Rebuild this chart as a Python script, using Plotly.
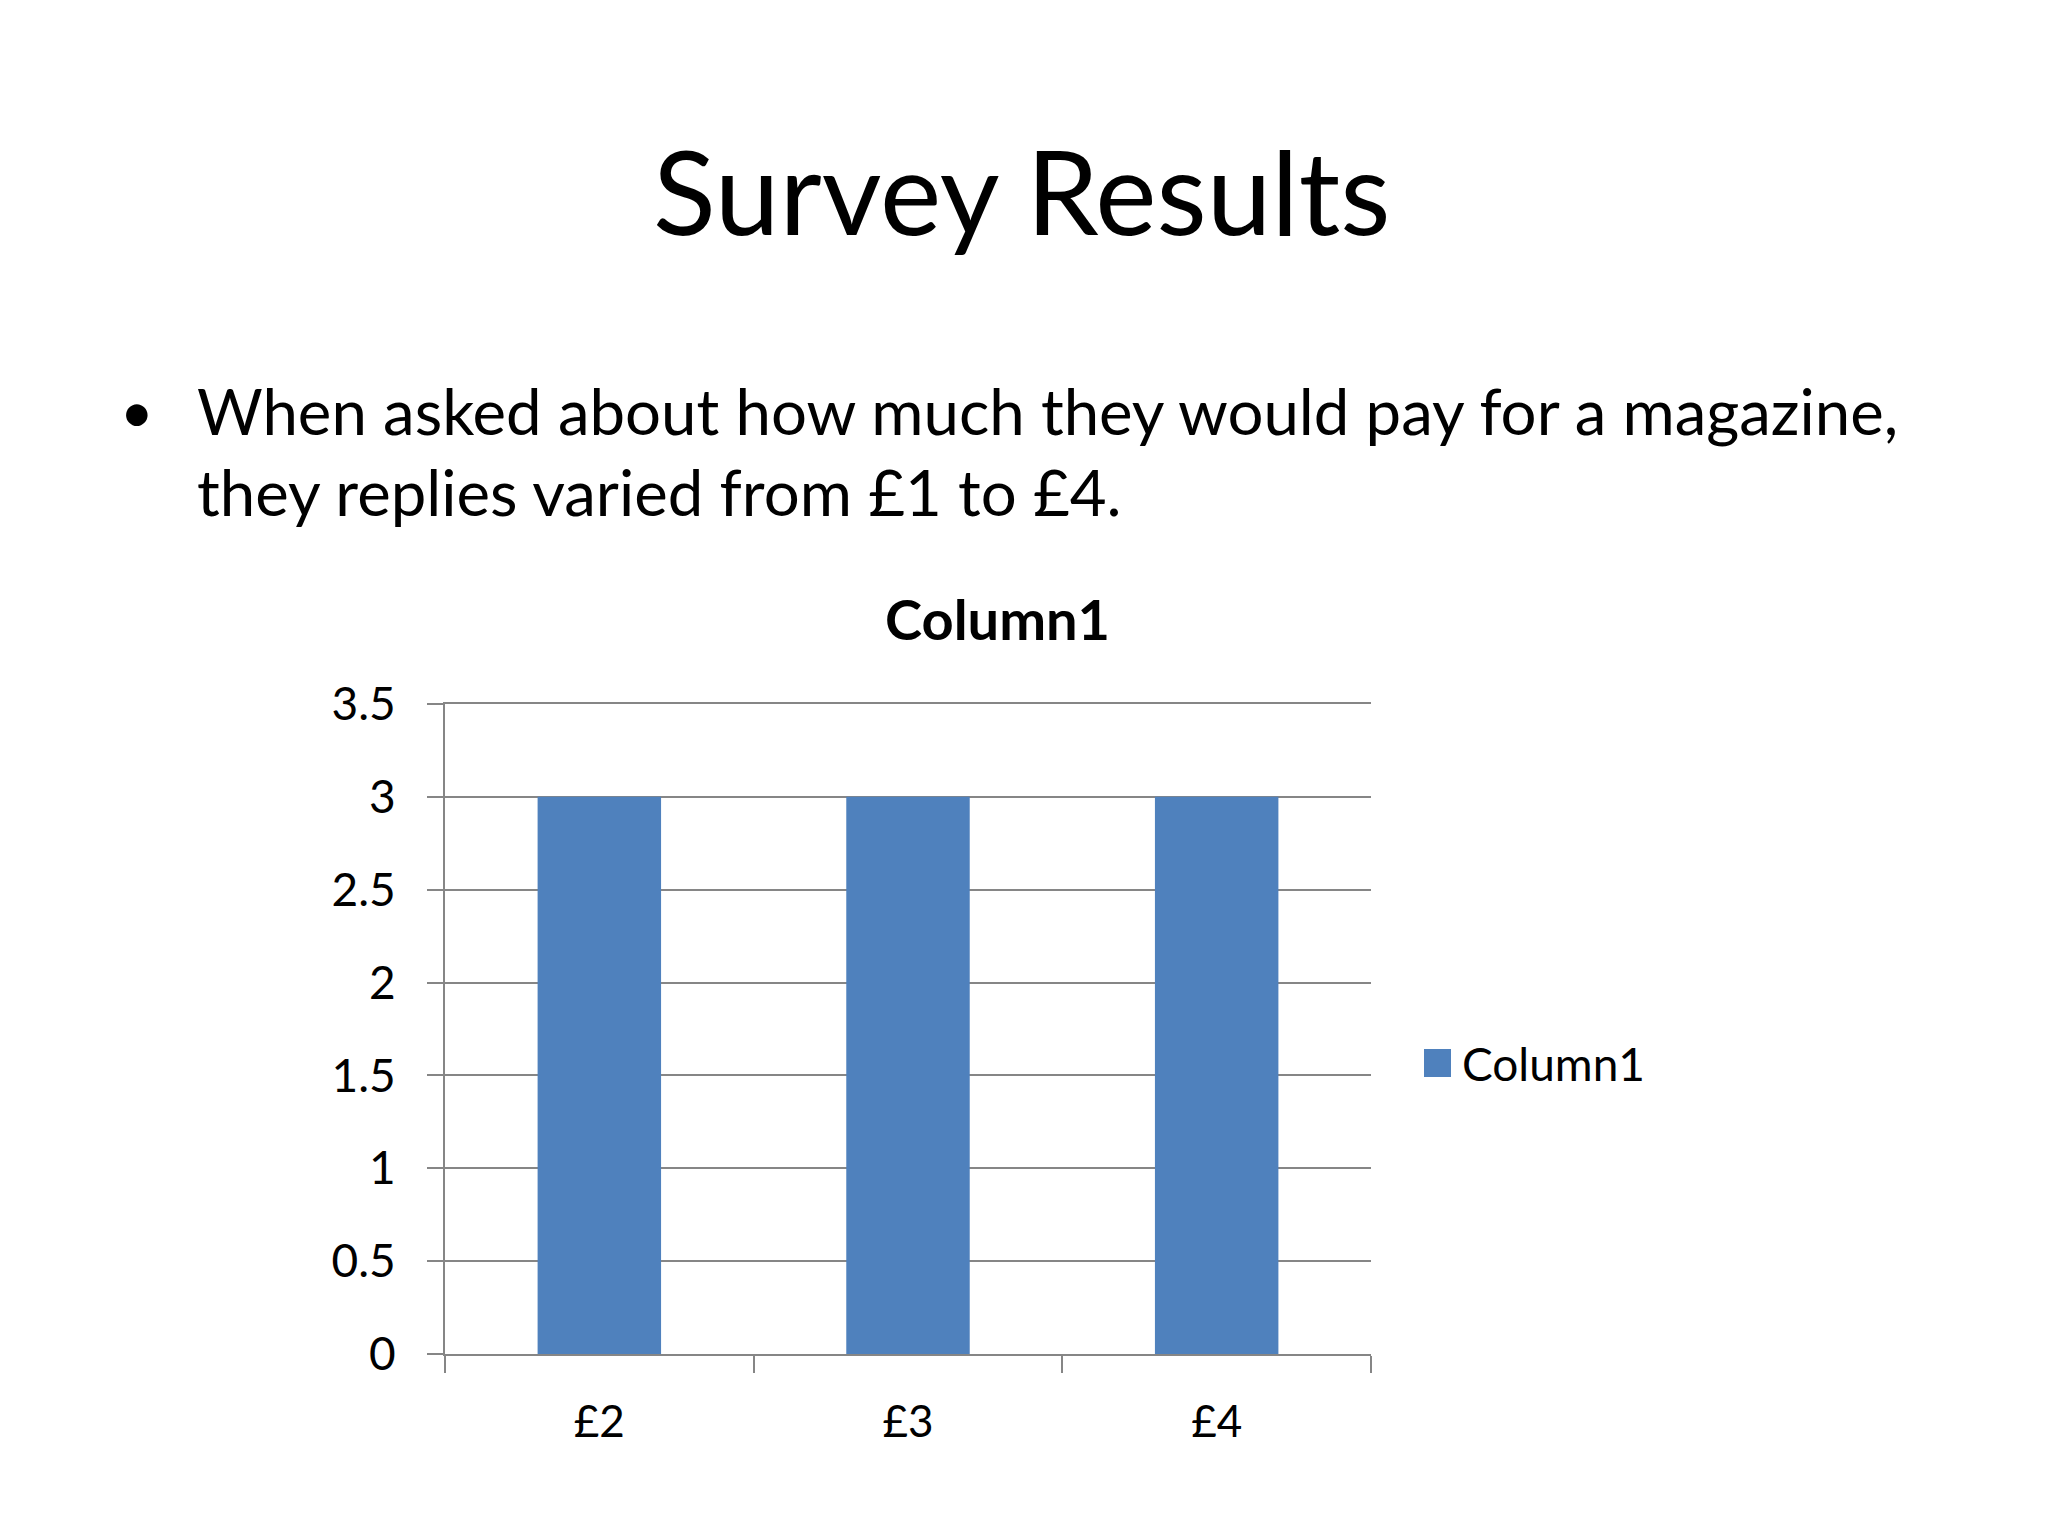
import plotly.graph_objects as go

# ---- data ----
categories = ["£2", "£3", "£4"]
values = [3, 3, 3]
series_name = "Column1"
y_ticks = [0, 0.5, 1, 1.5, 2, 2.5, 3, 3.5]
y_tick_labels = ["0", "0.5", "1", "1.5", "2", "2.5", "3", "3.5"]
slide_title = "Survey Results"
bullet_lines = ["When asked about how much they would pay for a magazine,",
                "they replies varied from £1 to £4."]

FONT = "Lato, 'Open Sans', sans-serif"
BAR = "#4F81BD"
GRID = "#868686"

W, H = 2048, 1536
OFF = 8  # page body margin
L, R, T, B = 445, 1371, 704, 1354  # plot area in page px
pw, ph = R - L, B - T

def px(x):
    return (x - L) / pw

def py(y):
    return (B - y) / ph

fig = go.Figure()
fig.add_trace(go.Bar(x=categories, y=values, name=series_name,
                     marker=dict(color=BAR, line=dict(width=0)),
                     showlegend=False))

fig.update_layout(
    width=W, height=H,
    margin=dict(l=L - OFF, r=W - (R - OFF), t=T - OFF, b=H - (B - OFF), pad=0),
    paper_bgcolor="white", plot_bgcolor="white",
    bargap=0.6,
    font=dict(family=FONT, color="black"),
    xaxis=dict(type="category", tickson="boundaries", ticks="outside",
               ticklen=17, tickwidth=2, tickcolor=GRID,
               showline=True, linecolor=GRID, linewidth=2, mirror=True,
               showgrid=False, tickfont=dict(size=44, family=FONT),
               ticklabelstandoff=28),
    yaxis=dict(range=[0, 3.5], tickvals=y_ticks, ticktext=y_tick_labels,
               ticks="outside", ticklen=16, tickwidth=2, tickcolor=GRID,
               showline=True, linecolor=GRID, linewidth=2,
               showgrid=True, gridcolor=GRID, gridwidth=2,
               zeroline=False, tickfont=dict(size=46, family=FONT),
               ticklabelstandoff=22),
)

# slide title
fig.add_annotation(text=slide_title, xref="paper", yref="paper",
                   x=px(1022), y=py(190), xanchor="center", yanchor="middle",
                   showarrow=False, font=dict(size=116, family=FONT))
# bullet
fig.add_annotation(text="•", xref="paper", yref="paper",
                   x=px(118), y=py(410), xanchor="left", yanchor="middle",
                   showarrow=False, font=dict(size=58, family=FONT))
fig.add_annotation(text=bullet_lines[0], xref="paper", yref="paper",
                   x=px(195), y=py(410), xanchor="left", yanchor="middle",
                   showarrow=False, font=dict(size=63.5, family=FONT))
fig.add_annotation(text=bullet_lines[1], xref="paper", yref="paper",
                   x=px(195), y=py(492), xanchor="left", yanchor="middle",
                   showarrow=False, font=dict(size=63.5, family=FONT))
# chart title
fig.add_annotation(text="<b>" + series_name + "</b>", xref="paper", yref="paper",
                   x=px(997), y=py(618), xanchor="center", yanchor="middle",
                   showarrow=False, font=dict(size=56, family=FONT))
# legend
fig.add_shape(type="rect", xref="paper", yref="paper",
              x0=px(1424), x1=px(1451), y0=py(1077), y1=py(1049),
              fillcolor=BAR, line=dict(width=0))
fig.add_annotation(text=series_name, xref="paper", yref="paper",
                   x=px(1460), y=py(1063), xanchor="left", yanchor="middle",
                   showarrow=False, font=dict(size=46, family=FONT))

fig.write_html("out.html")
